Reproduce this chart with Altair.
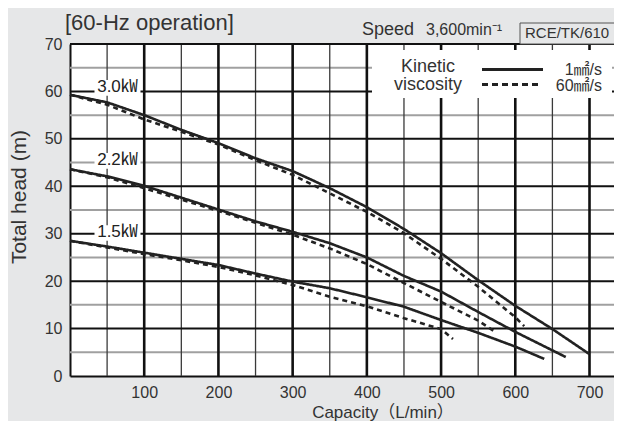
import altair as alt
import pandas as pd

# ---------------- data ----------------
q_30_solid = [0, 50, 100, 150, 200, 250, 300, 350, 400, 450, 500, 550, 600, 650, 700]
h_30_solid = [59.3, 57.7, 55.0, 51.9, 49.1, 45.9, 43.2, 39.6, 35.6, 31.0, 25.9, 20.2, 14.8, 9.9, 4.6]
q_30_dash = [0, 50, 100, 150, 200, 250, 300, 350, 400, 450, 500, 550, 600, 612]
h_30_dash = [59.3, 57.2, 54.1, 51.5, 48.8, 45.5, 42.4, 38.5, 34.6, 30.1, 24.7, 18.8, 12.4, 10.5]

q_22_solid = [0, 50, 100, 150, 200, 250, 300, 350, 400, 450, 500, 550, 600, 668]
h_22_solid = [43.6, 42.1, 40.1, 37.6, 35.1, 32.6, 30.4, 28.0, 25.0, 21.1, 17.8, 13.5, 9.3, 4.0]
q_22_dash = [0, 50, 100, 150, 200, 250, 300, 350, 400, 450, 500, 550, 571]
h_22_dash = [43.6, 41.9, 39.6, 37.2, 34.8, 32.3, 29.8, 26.9, 23.6, 19.6, 15.6, 11.7, 9.5]

q_15_solid = [0, 50, 100, 150, 200, 250, 300, 350, 400, 450, 500, 550, 600, 639]
h_15_solid = [28.5, 27.3, 26.0, 24.7, 23.4, 21.6, 19.9, 18.5, 16.6, 14.6, 11.8, 9.1, 6.2, 3.6]
q_15_dash = [0, 50, 100, 150, 200, 250, 300, 350, 400, 450, 500, 516]
h_15_dash = [28.5, 27.1, 25.7, 24.4, 23.0, 21.2, 19.2, 16.7, 14.7, 12.2, 9.9, 7.8]

label_names = ["3.0㎾", "2.2㎾", "1.5㎾"]
label_q = [64, 64, 64]
label_h = [60.9, 45.5, 30.3]

x_ticks = [100, 200, 300, 400, 500, 600, 700]
y_ticks = [0, 10, 20, 30, 40, 50, 60, 70]
x_grid_major = [100, 200, 300, 400, 500, 600, 700]
x_grid_minor = [50, 150, 250, 350, 450, 550, 650]
y_grid_major = [10, 20, 30, 40, 50, 60, 70]
y_grid_minor = [5, 15, 25, 35, 45, 55, 65]

# ---------------- tables ----------------
rows = []
for name, style, qs, hs in [
    ("3.0", "solid", q_30_solid, h_30_solid),
    ("3.0", "dashed", q_30_dash, h_30_dash),
    ("2.2", "solid", q_22_solid, h_22_solid),
    ("2.2", "dashed", q_22_dash, h_22_dash),
    ("1.5", "solid", q_15_solid, h_15_solid),
    ("1.5", "dashed", q_15_dash, h_15_dash),
]:
    for q, h in zip(qs, hs):
        rows.append({"Q": q, "H": h, "series": name + style, "style": style})
curves = pd.DataFrame(rows)

labels = pd.DataFrame({"name": label_names, "Q": label_q, "H": label_h})
labels["Q1"] = labels["Q"] - 31
labels["Q2"] = labels["Q"] + 31
labels["H1"] = labels["H"] - 1.8
labels["H2"] = labels["H"] + 1.5

W, H = 544, 332
FONT = "Liberation Sans, Noto Sans CJK JP, sans-serif"
INK = "#222222"
TXT = "#333333"

xs = alt.Scale(domain=[0, 733], nice=False, zero=False)
ys = alt.Scale(domain=[0, 70], nice=False)

# grid
vminor = alt.Chart(pd.DataFrame({"v": x_grid_minor})).mark_rule(
    color="#3a3a3a", strokeWidth=1.3).encode(x=alt.X("v:Q", scale=xs))
hminor = alt.Chart(pd.DataFrame({"v": y_grid_minor})).mark_rule(
    color="#a0a0a0", strokeWidth=2).encode(y=alt.Y("v:Q", scale=ys))
hmajor = alt.Chart(pd.DataFrame({"v": y_grid_major})).mark_rule(
    color="#111111", strokeWidth=2).encode(y=alt.Y("v:Q", scale=ys))
vmajor = alt.Chart(pd.DataFrame({"v": x_grid_major})).mark_rule(
    color="#111111", strokeWidth=2.6).encode(x=alt.X("v:Q", scale=xs))

# curves (carry the axes)
lines = alt.Chart(curves).mark_line(strokeWidth=2.6, color=INK).encode(
    x=alt.X("Q:Q", scale=xs,
            axis=alt.Axis(values=x_ticks, grid=False, ticks=False, tickSize=0,
                          domainColor="#111111", domainWidth=2,
                          labelFontSize=16, labelFont=FONT, labelColor=TXT,
                          labelPadding=8, title=None)),
    y=alt.Y("H:Q", scale=ys,
            axis=alt.Axis(values=y_ticks, grid=False, ticks=False, tickSize=0,
                          domainColor="#111111", domainWidth=2,
                          labelFontSize=16, labelFont=FONT, labelColor=TXT,
                          labelPadding=8, title=None)),
    detail="series:N",
    order="Q:Q",
    strokeDash=alt.StrokeDash("style:N",
                              scale=alt.Scale(domain=["solid", "dashed"],
                                              range=[[1, 0], [5, 4]]),
                              legend=None),
)

# curve labels
label_bg = alt.Chart(labels).mark_rect(color="white").encode(
    x=alt.X("Q1:Q", scale=xs), x2="Q2:Q",
    y=alt.Y("H1:Q", scale=ys), y2="H2:Q")
label_txt = alt.Chart(labels).mark_text(
    fontSize=17, font=FONT, color=INK, baseline="middle", align="center").encode(
    x=alt.X("Q:Q", scale=xs), y=alt.Y("H:Q", scale=ys), text="name:N")


def vtext(txt, x, y, size, align="left", baseline="middle", angle=0, color=TXT):
    return alt.Chart().mark_text(text=txt, fontSize=size, font=FONT, color=color,
                                 align=align, baseline=baseline, angle=angle).encode(
        x=alt.value(x), y=alt.value(y))


# legend box
leg_box = alt.Chart().mark_rect(color="white").encode(
    x=alt.value(302), x2=alt.value(542), y=alt.value(6), y2=alt.value(54))
leg_solid = alt.Chart().mark_rule(color=INK, strokeWidth=3).encode(
    x=alt.value(412), x2=alt.value(473), y=alt.value(25.5))
leg_dash = alt.Chart().mark_rule(color=INK, strokeWidth=3, strokeDash=[6, 4]).encode(
    x=alt.value(412), x2=alt.value(472), y=alt.value(40.5))

texts = [
    vtext("Kinetic", 358, 22.5, 18, align="center"),
    vtext("viscosity", 358, 41, 18, align="center"),
    vtext("1㎟/s", 532, 26, 16, align="right"),
    vtext("60㎟/s", 532, 42, 16, align="right"),
    vtext("[60-Hz operation]", -5, -14, 22, baseline="alphabetic"),
    vtext("Speed", 292, -9, 18, baseline="alphabetic"),
    vtext("3,600min⁻¹", 356, -9, 16, baseline="alphabetic"),
    vtext("RCE/TK/610", 455, -6, 15, baseline="alphabetic"),
    vtext("Total head (m)", -50, 153, 21, align="center", angle=270),
    vtext("Capacity（L/min）", 313, 369, 17, align="center"),
]

code_box = alt.Chart().mark_rect(fill="#e6e7e8", stroke="#555555", strokeWidth=1).encode(
    x=alt.value(450), x2=alt.value(560), y=alt.value(-21), y2=alt.value(0))

chart = alt.layer(
    hminor, vminor, hmajor, vmajor,
    label_bg, leg_box, code_box,
    lines, label_txt, leg_solid, leg_dash,
    *texts,
).properties(
    width=W, height=H,
    padding={"left": 62, "top": 36, "right": 0, "bottom": 45},
    autosize=alt.AutoSizeParams(type="none"),
    background="#e6e7e8",
).configure_view(fill="white", stroke=None)

chart.save("out.html", embed_options={"renderer": "svg", "actions": False})
